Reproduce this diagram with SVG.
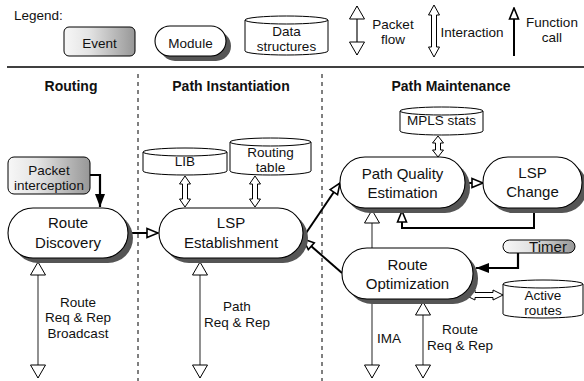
<svg xmlns="http://www.w3.org/2000/svg" width="584" height="381" viewBox="0 0 584 381">
  <defs>
    <linearGradient id="evtFill" x1="0" y1="0" x2="1" y2="0">
      <stop offset="0" stop-color="#f7f7f7"/>
      <stop offset="0.35" stop-color="#e4e4e4"/>
      <stop offset="1" stop-color="#979797"/>
    </linearGradient>
    <!-- hollow triangle for packet flow -->
    <marker id="tri" viewBox="0 0 15 17" refX="14" refY="8.5" markerWidth="15" markerHeight="17" markerUnits="userSpaceOnUse" orient="auto-start-reverse">
      <path d="M1,1 L14,8.5 L1,16 Z" fill="#fff" stroke="#000" stroke-width="1"/>
    </marker>
    <!-- hollow head for function calls -->
    <marker id="callOpen" viewBox="0 0 14 12" refX="12.5" refY="6" markerWidth="14" markerHeight="12" markerUnits="userSpaceOnUse" orient="auto">
      <path d="M1.5,1.5 L12.5,6 L1.5,10.5 Z" fill="#fff" stroke="#000" stroke-width="1.6"/>
    </marker>
    <!-- filled head for event-triggered calls -->
    <marker id="callFill" viewBox="0 0 13 10" refX="13" refY="5" markerWidth="13" markerHeight="10" markerUnits="userSpaceOnUse" orient="auto">
      <path d="M0,0 L13,5 L0,10 Z" fill="#000"/>
    </marker>
  </defs>
  <style>
    text { font-family: "Liberation Sans", Arial, Helvetica, sans-serif; fill: #111; }
    .n { font-size: 15px; text-anchor: middle; }
    .l { font-size: 13.5px; text-anchor: middle; }
    .h { font-size: 14px; font-weight: bold; text-anchor: middle; }
    .lg { font-size: 13.5px; }
    .box { fill: #fff; stroke: #000; stroke-width: 1.1; }
    .sh { fill: #555; }
    .evt { fill: url(#evtFill); stroke: #000; stroke-width: 1; }
    .cyl { fill: #fff; stroke: #000; stroke-width: 1; }
    .pf { fill: none; stroke: #555; stroke-width: 1.3; marker-start: url(#tri); marker-end: url(#tri); }
    .pf1 { fill: none; stroke: #555; stroke-width: 1.3; marker-end: url(#tri); }
    .fc { fill: none; stroke: #000; stroke-width: 2; marker-end: url(#callOpen); }
    .fe { fill: none; stroke: #000; stroke-width: 2.2; marker-end: url(#callFill); }
    .ia { fill: #fff; stroke: #000; stroke-width: 1; }
    .rule { stroke: #000; stroke-width: 1.5; }
    .dash { stroke: #000; stroke-width: 1; stroke-dasharray: 4 4; }
  </style>

  <rect width="584" height="381" fill="#fff"/>

  <!-- legend -->
  <g id="legend">
    <text class="lg" x="14" y="20">Legend:</text>
    <rect class="evt" x="64" y="27" width="71" height="29" rx="5"/>
    <text class="l" x="99.5" y="48">Event</text>
    <rect class="sh" x="160" y="31" width="71" height="30" rx="15"/>
    <rect class="box" x="155" y="26" width="71" height="30" rx="15"/>
    <text class="l" x="190.5" y="48">Module</text>
    <path class="cyl" d="M245,20 A41.5,4 0 0 1 328,20 V51 A41.5,4 0 0 1 245,51 Z M245,20 A41.5,4 0 0 0 328,20"/>
    <text class="l" x="286.5" y="36">Data</text>
    <text class="l" x="286.5" y="51">structures</text>
    <line class="pf" x1="357" y1="6" x2="357" y2="55" style="stroke:#222"/>
    <text class="l" x="393" y="29">Packet</text>
    <text class="l" x="393" y="44">flow</text>
    <polygon class="ia" points="434,5 439.5,15 436.5,15 436.5,47 439.5,47 434,57 428.5,47 431.5,47 431.5,15 428.5,15"/>
    <text class="l" x="472" y="37">Interaction</text>
    <line class="fc" x1="514" y1="56" x2="514" y2="8"/>
    <text class="l" x="552" y="27">Function</text>
    <text class="l" x="552" y="42">call</text>
  </g>

  <!-- section frame -->
  <g id="sections">
    <line class="rule" x1="7" y1="67" x2="584" y2="67"/>
    <line class="dash" x1="138" y1="74" x2="138" y2="381"/>
    <line class="dash" x1="322" y1="74" x2="322" y2="381"/>
    <text class="h" x="71" y="91">Routing</text>
    <text class="h" x="231" y="91">Path Instantiation</text>
    <text class="h" x="451" y="91">Path Maintenance</text>
  </g>

  <!-- connectors -->
  <g id="connectors">
    <path class="fe" d="M90,175 H100 V207"/>
    <line class="fc" x1="129" y1="233" x2="158" y2="233"/>
    <line class="fc" x1="302" y1="239" x2="340" y2="183"/>
    <line class="fc" x1="342" y1="273" x2="303" y2="239"/>
    <line class="fc" x1="466" y1="183" x2="483" y2="183"/>
    <path class="fc" d="M534,208 V228 H402 V211"/>
    <path class="fe" d="M518,253 V268 H476"/>
    <line class="pf" x1="38" y1="262" x2="38" y2="378"/>
    <line class="pf" x1="200" y1="262" x2="200" y2="378"/>
    <line class="pf1" x1="372" y1="248" x2="372" y2="210"/>
    <line class="pf1" x1="372" y1="300" x2="372" y2="378"/>
    <line class="pf" x1="423" y1="302" x2="423" y2="378"/>
    <polygon class="ia" points="185,176 190.5,184 187.5,184 187.5,199 190.5,199 185,207 179.5,199 182.5,199 182.5,184 179.5,184"/>
    <polygon class="ia" points="255,176 260.5,184 257.5,184 257.5,199 260.5,199 255,207 249.5,199 252.5,199 252.5,184 249.5,184"/>
    <polygon class="ia" points="438,136 443.5,143 440.5,143 440.5,150 443.5,150 438,157 432.5,150 435.5,150 435.5,143 432.5,143"/>
    <polygon class="ia" points="465,295 475,290 475,292.5 493,292.5 493,290 503,295 493,300 493,297.5 475,297.5 475,300"/>
    <text class="l" x="78" y="306.5">Route</text>
    <text class="l" x="78" y="322">Req &amp; Rep</text>
    <text class="l" x="78" y="337.5">Broadcast</text>
    <text class="l" x="237" y="311">Path</text>
    <text class="l" x="237" y="327">Req &amp; Rep</text>
    <text class="l" x="389" y="343">IMA</text>
    <text class="l" x="460" y="334">Route</text>
    <text class="l" x="460" y="350">Req &amp; Rep</text>
  </g>

  <!-- routing -->
  <g id="packet-interception">
    <rect class="evt" x="8" y="157" width="82" height="37" rx="6"/>
    <text class="l" x="49" y="175">Packet</text>
    <text class="l" x="49" y="190">interception</text>
  </g>
  <g id="route-discovery">
    <rect class="sh" x="13" y="213" width="120" height="50" rx="25"/>
    <rect class="box" x="8" y="208" width="120" height="50" rx="25"/>
    <text class="n" x="68" y="228">Route</text>
    <text class="n" x="68" y="248">Discovery</text>
  </g>

  <!-- path instantiation -->
  <g id="lib">
    <path class="cyl" d="M143,152 A42,4 0 0 1 227,152 V171 A42,4 0 0 1 143,171 Z M143,152 A42,4 0 0 0 227,152"/>
    <text class="l" x="185" y="166">LIB</text>
  </g>
  <g id="routing-table">
    <path class="cyl" d="M230,142 A40.5,4 0 0 1 311,142 V171 A40.5,4 0 0 1 230,171 Z M230,142 A40.5,4 0 0 0 311,142"/>
    <text class="l" x="270.5" y="157">Routing</text>
    <text class="l" x="270.5" y="172">table</text>
  </g>
  <g id="lsp-establishment">
    <rect class="sh" x="164" y="213" width="144" height="50" rx="25"/>
    <rect class="box" x="159" y="208" width="144" height="50" rx="25"/>
    <text class="n" x="231" y="228">LSP</text>
    <text class="n" x="231" y="248">Establishment</text>
  </g>

  <!-- path maintenance -->
  <g id="mpls-stats">
    <path class="cyl" d="M400,111 A41.5,4 0 0 1 483,111 V131 A41.5,4 0 0 1 400,131 Z M400,111 A41.5,4 0 0 0 483,111"/>
    <text class="l" x="441.5" y="125">MPLS stats</text>
  </g>
  <g id="path-quality-estimation">
    <rect class="sh" x="345" y="162" width="125" height="51" rx="25"/>
    <rect class="box" x="340" y="157" width="125" height="51" rx="25"/>
    <text class="n" x="402.5" y="179">Path Quality</text>
    <text class="n" x="402.5" y="198">Estimation</text>
  </g>
  <g id="lsp-change">
    <rect class="sh" x="488" y="162" width="99" height="51" rx="25"/>
    <rect class="box" x="483" y="157" width="99" height="51" rx="25"/>
    <text class="n" x="532.5" y="178">LSP</text>
    <text class="n" x="532.5" y="197">Change</text>
  </g>
  <g id="route-optimization">
    <rect class="sh" x="347" y="253" width="131" height="51" rx="25"/>
    <rect class="box" x="342" y="248" width="131" height="51" rx="25"/>
    <text class="n" x="407.5" y="270">Route</text>
    <text class="n" x="407.5" y="289">Optimization</text>
  </g>
  <g id="timer">
    <rect class="evt" x="503" y="240" width="72" height="13" rx="6.5"/>
    <text class="n" x="548" y="251.5">Timer</text>
  </g>
  <g id="active-routes">
    <path class="cyl" d="M503,284 A40,4 0 0 1 583,284 V314 A40,4 0 0 1 503,314 Z M503,284 A40,4 0 0 0 583,284"/>
    <text class="l" x="543" y="300">Active</text>
    <text class="l" x="543" y="315">routes</text>
  </g>
</svg>
